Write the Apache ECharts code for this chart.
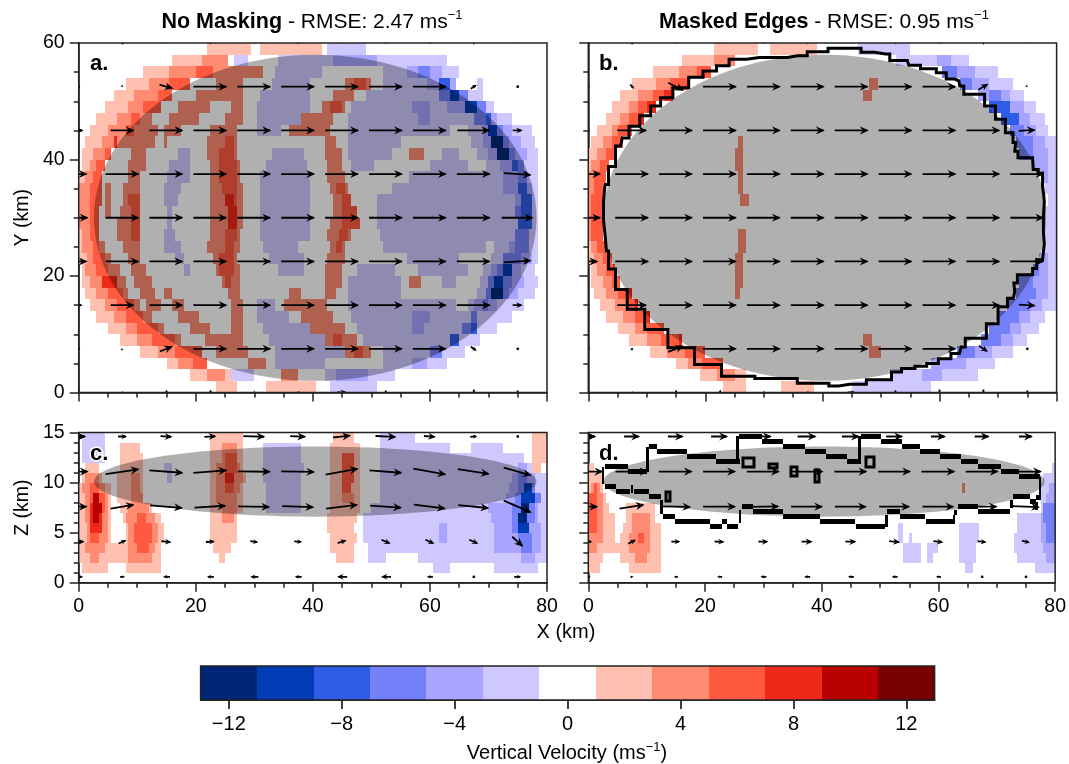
<!DOCTYPE html>
<html><head><meta charset="utf-8">
<style>html,body{margin:0;padding:0;background:#fff}#c{width:1069px;height:764px}</style>
<script src="https://cdn.jsdelivr.net/npm/echarts@6/dist/echarts.min.js"></script>
</head><body><div id="c"></div>
<script>
// Colour bands (centre value of each 2 m/s band) and colours
const bandValues = [-12,-10,-8,-6,-4,-2,0,2,4,6,8,10,12];
const bandColors = ['#002677','#003cb4','#2f5ce6','#7480f8','#a8a4ff','#cfc8ff','#ffffff','#ffc0b0','#ff8c72','#ff5a40','#f02818','#b80000','#780000'];
const barTicks = [-12,-8,-4,0,4,8,12];

// Row centres (km); each row is x, value, x, value ... (value holds until next x)
const rowsY = [59,57,55,53,51,49,47,45,43,41,39,37,35,33,31,29,27,25,23,21,19,17,15,13,11,9,7,5,3,1];
const rowsZ = [14.5,13.5,12.5,11.5,10.5,9.5,8.5,7.5,6.5,5.5,4.5,3.5,2.5,1.5,0.5];

const heatA = [
[22,2,29.5,0,31,2,41.5,0,42.5,-2,49,0],
[16,2,21,4,25.5,0,26.5,-2,29,0,34,-2,43.5,-4,51,-2,63,0],
[11,2,15.5,4,20,6,23,4,31.5,0,33.5,-2,41.5,0,52,-2,56,-4,58,-6,60,-4,62,-2,65,0],
[8,2,12,4,15.5,6,19,0,23.5,4,28,0,33,-2,39.5,0,45.5,4,47,6,49,4,50,0,52,-2,59.5,-4,61.5,-8,63.5,-4,64.5,0,68,-2,69,0],
[6,2,9.5,4,13.5,6,16,0,20,4,28,0,31,-2,39.5,0,43.5,4,47,0,49,-2,61.5,-6,63.5,-10,65,-6,66.5,-2,69,0],
[4.5,2,8.5,4,11,6,14,0,17,4,22.5,0,26,4,28,0,30.5,-2,39.5,0,41.5,4,43,6,45,4,45.5,0,46.5,-2,57,-4,60,-2,63,-4,66,-10,68,-6,69.5,-2,71,0],
[3,2,6.5,4,9,6,10.5,4,12.5,0,15.5,4,20.5,0,25,4,28,0,30.5,-2,38,4,43.5,0,46,-2,58,-4,60,-2,67.5,-6,69.5,-8,70.5,-4,71.5,-2,74,0],
[2,2,5,4,8,6,9.5,4,13.5,0,14.5,4,17.5,0,22.5,4,27,0,30.5,-2,34.5,0,36,4,43,0,46,-2,63.5,0,66.5,-2,69,-4,70,-10,71.5,-6,72.5,-4,74,-2,77.5,0],
[1,2,4,4,6,8,6.5,4,13,0,14.5,4,15,0,22,4,25,6,26.5,4,27,0,42,4,44,0,46,-2,55,0,67,-2,69,-4,70.5,-12,72.5,-6,73.5,-4,75.5,-2,78,0],
[0.5,2,2.5,4,4.5,6,5.5,0,9,4,11.5,0,17,-2,19,0,22,4,24,6,26.5,4,27,0,33,-2,38.5,0,42,4,45,0,46,-2,53.5,0,56.5,4,59,0,62,-2,65,0,68,-2,70,-4,71.5,-12,73.5,-6,74.5,-4,76.5,-2,78.5,0],
[0.5,2,2,4,3,6,4.5,0,8.5,4,11.5,0,15.5,-2,19,0,22.5,4,24,6,27,4,27.5,0,32,-2,39,0,42.5,4,45,0,46.5,-2,50.5,0,60,-2,66.5,0,69.5,-2,72,-4,74,-8,75,-6,76,-2,78.5,0],
[0,2,1,4,2.5,6,4,0,8.5,4,10.5,0,15,-2,19,0,22.5,4,24,6,27,4,27.5,0,31,-2,39.5,0,42.5,4,45.5,0,56.5,-2,72.5,-4,75,-6,76.5,-2,78.5,0],
[0,4,2,6,4,0,4.5,4,5.5,0,7.5,4,10.5,0,14.5,-2,17.5,0,22.5,4,24.5,6,27,4,28,0,31,-2,39.5,0,43,4,44,6,45.5,4,46,0,53.5,-2,72.5,-4,75,-8,76.5,-4,77.5,-2,78.5,0],
[0,4,2,6,4,0,4.5,4,5.5,0,7.5,4,8.5,6,10.5,0,14.5,-2,17,0,22.5,4,25,8,26.5,6,27,4,28,0,31,-2,39.5,0,43.5,4,45,6,46.5,0,51,-2,74.5,-4,75.5,-8,77.5,-2,78.5,0],
[0,4,2,6,3.5,0,4.5,4,5.5,0,7,4,9,6,10.5,0,15,-2,16,0,22.5,4,25.5,8,27,4,28,0,31,-2,39.5,0,43.5,4,45,6,47.5,0,51,-2,74.5,-6,75.5,-8,77.5,-2,78.5,0],
[0,4,2,6,3.5,0,6.5,4,9,6,10.5,0,15,-2,16,0,22.5,4,25.5,8,27,4,28,0,31,-2,39.5,0,43,4,45,6,48,0,51,-2,75,-8,77.5,-2,78.5,0],
[0,2,0.5,4,2,6,3.5,0,6.5,4,9,6,10.5,0,14.5,-2,16.5,0,22.5,4,25,6,27,4,27.5,0,31,-2,39.5,0,42.5,4,44.5,6,46,4,46.5,0,51.5,-2,74.5,-6,77,-2,78.5,0],
[0,2,0.5,4,2.5,6,3.5,4,4.5,0,7.5,4,10.5,0,14.5,-2,17.5,0,22,4,25,6,26.5,4,27.5,0,31.5,-2,37.5,0,43,4,44,6,45,4,45.5,0,52,-2,69.5,0,71,-2,73.5,-4,74.5,-6,77,-2,78.5,0],
[0,2,1.5,4,2.5,6,4.5,4,5.5,0,8.5,4,10.5,0,16.5,-2,18,0,23,4,24,6,26.5,4,27,0,32.5,-2,38.5,0,42.5,4,45.5,0,56,-2,65,0,70.5,-2,72.5,-6,75.5,-4,77.5,-2,78.5,0],
[0.5,2,1,4,3,6,5,4,7,0,9,4,11.5,0,18,-2,19,0,23.5,4,24,6,26.5,4,27.5,0,34,-2,38.5,0,42,4,45,0,47.5,-2,54,0,58,-2,66.5,0,69,-2,70.5,-4,71.5,-6,72.5,-10,74,-4,75.5,-2,78,0],
[0.5,2,2,4,4,8,6.5,4,8,0,9.5,4,12.5,0,24.5,4,25,6,26,4,27.5,0,42,4,45,0,46,-2,55,0,56.5,4,58.5,0,62,-2,64.5,0,68.5,-2,70,-6,71,-10,72.5,-6,74,-4,76,-2,78.5,0],
[1,2,3,4,5,6,7.5,4,8.5,0,10.5,4,13,0,14.5,4,16,0,25.5,4,27.5,0,36,4,38,0,42,4,44,0,46,-2,55,0,68,-2,69.5,-6,70.5,-12,72.5,-6,73.5,-4,75,-2,78,0],
[2,2,4.5,4,6.5,6,9.5,4,10.5,0,11.5,4,14,0,16,4,18,0,26,4,28,0,30.5,-2,33.5,0,35,4,42.5,0,46,-2,64.5,0,66.5,-2,67.5,-4,69,-6,70,-4,71.5,-2,76,0],
[3,2,6,4,8,6,11,4,12.5,0,17,4,20.5,0,26,4,28,0,30.5,-2,36,0,38,4,43.5,0,46.5,-2,57,-4,60,-2,67,-6,68,-2,74,0],
[5,2,8,4,10,6,13.5,4,14.5,0,19,4,22.5,0,26,4,28,0,31.5,-2,39.5,4,45.5,0,47.5,-2,57,-4,59,-2,65.5,-6,67,-8,68,-2,71.5,0],
[7,2,10,4,12.5,6,16.5,4,17.5,0,21.5,4,28,0,32.5,-2,42,4,43.5,6,45,4,47.5,0,48.5,-2,63.5,-8,65,-2,68.5,0],
[10.5,2,13.5,4,16.5,6,21,0,23.5,4,29,0,33.5,-2,45.5,4,47,6,48.5,4,50,0,52,-2,60,-6,62,-2,66,0],
[15,2,17,4,19.5,6,22,0,29,4,32,0,33.5,-2,42,0,52,-2,57,-4,59.5,-2,63,0],
[19,2,22,4,25,2,26,-2,30,0,34.5,4,37.5,0,42,-2,44,-4,49.5,-2,54,0],
[23.5,2,27,0,32,2,40.5,0,43,-2,51,0]
];

const heatB = [
[21.5,2,29,0,31,2,39,0,46,-2,55,0],
[16,2,21.5,4,25,0,52.5,-2,59.5,-4,62,-2,65,0],
[11,2,15.5,4,18.5,6,21,0,60.5,-6,63,-4,66,-2,70,0],
[7.5,2,11.5,4,14,6,17,0,48,4,49.5,0,63.5,-6,65.5,-4,68.5,-2,72.5,0],
[5.5,2,8.5,4,11,6,13,8,14.5,0,47,4,48.5,0,66.5,-4,68.5,-6,70.5,-4,72,-2,74.5,0],
[4,2,7,4,8.5,6,10,8,11.5,0,68.5,-8,72,-4,74.5,-2,76.5,0],
[3,2,5.5,4,7,6,8.5,8,9.5,0,70.5,-8,73.5,-4,75.5,-2,78,0],
[1.5,2,4,4,5,6,7.5,0,72,-6,74.5,-4,76.5,-2,78.5,0],
[0.5,2,2.5,4,4,6,6,0,25.5,4,26.5,0,73,-6,76,-4,78,-2,80,0],
[0,2,1.5,4,3,6,4.5,0,25,4,26.5,0,73.5,-6,76,-4,78.5,-2,80,0],
[0,2,0.5,4,2,6,3.5,0,25,4,26.5,0,76,-4,78.5,-2,80,0],
[0,4,1,6,3,0,25.5,4,26.5,0,77.5,-4,78.5,-2,80,0],
[0,4,1,6,2.5,0,25.5,4,26.5,0,78,-2,80,0],
[0,4,0.5,6,2.5,0,26,4,27.5,0,78.5,-2,80,0],
[0,4,0.5,6,2.5,0,78,-2,80,0],
[0,4,0.5,6,2.5,0,78,-2,80,0],
[0,4,0.5,6,2.5,0,25.5,4,27,0,78,-2,80,0],
[0,2,0.5,4,1.5,6,3,0,25.5,4,27,0,78,-2,80,0],
[0,2,1,4,2.5,6,4,0,25,4,26.5,0,77,-4,78.5,-2,80,0],
[0.5,2,1.5,4,3,6,4.5,0,25,4,26.5,0,76,-6,77,-4,78.5,-2,80,0],
[0.5,2,2.5,4,4,6,5.5,0,25,4,26.5,0,73.5,-6,76,-4,78.5,-2,80,0],
[1,2,3,4,5,6,7,8,7.5,0,25,4,26,0,73,-6,76.5,-4,78.5,-2,80,0],
[2,2,4.5,4,6.5,6,8,8,8.5,0,71.5,-6,75.5,-4,77.5,-2,80,0],
[3,2,6,4,8,6,10,8,10.5,0,70,-6,73.5,-4,75.5,-2,78,0],
[5,2,8,4,10,6,13,0,68.5,-6,72,-4,74,-2,77,0],
[7,2,10,4,12.5,6,15.5,8,16,0,47,4,48.5,0,67,-6,70.5,-4,72.5,-2,75,0],
[10.5,2,13.5,4,16.5,6,20,0,48,4,50,0,63,-6,66,-4,69,-2,72.5,0],
[15,2,17,4,19.5,6,23,0,58.5,-4,64.5,-2,69.5,0],
[19,2,22,4,25,2,27,0,51.5,-2,57,-4,60.5,-2,66.5,0],
[23,2,27,0,33,2,38.5,0,45,-2,58.5,0]
];

const heatC = [
[0.5,-2,4.5,0,22.5,2,28,0,43.5,2,47,0,51.5,-2,57.5,0,77.5,2,80,0],
[0.5,-2,4.5,0,7,2,10.5,0,22.5,2,24.5,4,27,2,28,0,31.5,-2,38,0,43,2,48,0,51.5,-2,63.5,0,67,-2,72.5,0,77.5,2,80,0],
[0.5,-2,4.5,0,7,2,11,0,22.5,2,24.5,4,25,6,27,2,28,0,31.5,-2,38,0,43,2,45,6,47,2,48,0,51.5,-2,76,0,77.5,2,80,0],
[1,2,3.5,0,7,2,11,0,14.5,-2,16,0,22.5,2,23.5,4,25,6,27,4,27.5,2,28,0,31.5,-2,38.5,0,43,2,45,6,47,2,48,0,51.5,-2,75,-4,76.5,-2,77.5,2,79,0],
[0.5,2,1,4,3.5,2,4,0,6.5,2,9,4,10.5,2,11,0,15,-2,16,0,22.5,2,23.5,4,25,8,26.5,4,28,2,28.5,0,31.5,-2,38,0,43,2,45,6,47,2,48,0,51.5,-2,74,-4,75,-6,76.5,-4,78,-2,80,0],
[0,2,0.5,4,2,6,3.5,4,4.5,2,5.5,0,6.5,2,9,4,10.5,2,11,0,22.5,2,23.5,4,25,6,26.5,4,27.5,2,28,0,32,-2,38,0,43,2,45,6,46.5,2,48,0,51.5,-2,73.5,-4,75,-6,76,-10,77.5,-6,78,-2,80,0],
[0,2,1,4,2,6,2.5,10,3.5,6,4.5,4,5,2,5.5,0,6.5,2,9,4,11,0,22.5,2,23.5,4,27,2,28,0,32,-2,38,0,43,2,45,4,47,2,48,0,51.5,-2,73,-4,74.5,-6,75.5,-10,78,-6,79,-2,80,0],
[0,2,1,4,2,8,2.5,10,4,6,4.5,4,5,2,5.5,0,7,2,8.5,4,12,2,12.5,0,22.5,2,24.5,4,27,2,28,0,32,-2,38,0,43,2,48,0,50,-2,70,-4,74,-6,75.5,-12,77,-6,78,-4,78.5,-2,80,0],
[0,2,1,4,2,8,2.5,10,3.5,8,4,4,5,2,5.5,0,7.5,2,8,4,10,6,11.5,4,13,2,14,0,22.5,2,24.5,4,26.5,2,27,0,42.5,2,47.5,0,48.5,-2,70.5,-4,74,-6,75,-12,76.5,-6,78,-4,78.5,-2,80,0],
[0,2,1.5,4,2,8,4,4,5,2,5.5,0,8,2,8.5,4,9.5,6,12.5,4,13.5,2,14.5,0,22.5,2,27,0,42.5,2,47,0,48.5,-2,61.5,-4,63,-2,71,-4,74,-6,75,-10,77,-4,79,-2,80,0],
[0,2,1.5,4,2,6,3.5,4,5,2,5.5,0,8,2,8.5,4,9.5,6,12.5,4,13.5,2,14.5,0,22.5,2,27,0,43,2,47.5,0,48.5,-2,61.5,-4,63,-2,71,-4,75,-6,77.5,-4,79,-2,80,0],
[0,2,1,4,4.5,2,8.5,4,10,6,12,4,13,2,14,0,23,2,26,0,43,2,47,0,49.5,-2,71,-4,75.5,-6,77.5,-4,79,-2,80,0],
[0,2,2,4,3.5,2,8.5,4,12.5,2,14,0,24,2,25,0,44,2,47,0,49.5,-2,52.5,0,58,-2,75.5,-4,78,-2,80,0],
[0.5,2,5,0,8,2,14,0,60.5,-2,63.5,0,71,-2,78.5,0],
[]
];

const heatD = [
[],[],[],
[0,2,1,0,79.5,-2,80,0],
[0,2,2.5,0,78,-2,80,0],
[0,2,0.5,4,1,6,1.5,4,2,2,2.5,0,64,4,64.5,0,77.5,-2,79,-4,80,0],
[0,6,1.5,4,2.5,2,3,0,77.5,-2,78.5,-4,80,0],
[0,6,1.5,4,2.5,2,3.5,0,6.5,2,11.5,0,77.5,-2,78,-6,80,0],
[0,6,1.5,4,2.5,2,4.5,0,6.5,2,7.5,4,10.5,2,11.5,0,73.5,-2,77.5,-4,78,-6,80,0],
[0,6,1.5,4,2.5,2,4.5,0,6,2,7.5,4,10.5,2,12.5,0,53,-2,54,0,63.5,-2,67,0,73.5,-2,77.5,-4,78.5,-6,80,0],
[0,4,2.5,2,4.5,0,5.5,2,7,4,8.5,6,9.5,4,10.5,2,12.5,0,53,-2,54,0,55,-2,55.5,0,63.5,-2,67,0,73,-2,77.5,-4,78.5,-6,80,0],
[0,4,1.5,2,7,4,10.5,2,12.5,0,54,-2,57,0,58,-2,60,0,63.5,-2,66.5,0,73,-2,78,-4,80,0],
[0,2,2.5,0,5.5,2,8,4,10,2,12.5,0,54,-2,57,0,58,-2,59,0,63.5,-2,66.5,0,73.5,-2,78.5,-4,80,0],
[0,2,2,0,7,2,12.5,0,64.5,-2,66,0,76.5,-2,80,0],
[]
];

// Gray ellipses: centre x, centre y, semi-axis x, semi-axis y (km)
const ellipseXY = [40.4,30,37.8,28];
const ellipseXZ = [40.4,10.1,37.8,3.5];

// Mask outline for panel b (x, y km)
const maskB = [[2.6,29.6],[2.6,32.8],[3.1,35.7],[3.8,38.8],[5.5,42.3],[6.1,43.7],[7.8,45.7],[9.8,47.5],[11.5,49.2],[13.2,50.6],[15.7,52.3],[18.6,54.1],[20.6,55.2],[23.2,56.1],[24.9,57.2],[29.2,57.5],[32.3,57.5],[35.7,57.8],[39.1,58.5],[42.8,59.1],[46.2,59.1],[47,58.4],[50.8,58.1],[52.2,57],[54.5,57],[55,56.2],[58.5,55.6],[60.4,54.9],[61.9,53.8],[63.3,53.5],[63.6,52.6],[64.7,51.2],[66.7,51.2],[68.7,49.2],[70.4,46.9],[72.1,44.6],[73,42.9],[72.7,41.4],[74.1,40.3],[75.9,40.3],[76.1,38.3],[77.6,37.7],[77.6,35.4],[77.9,34.3],[77.9,32.8],[77.6,30.2],[77.9,27.4],[77.9,25.6],[77.3,22.8],[75.9,21.3],[75.9,20.2],[73.9,20.2],[72.7,18.8],[73,17.3],[72.2,16.2],[71,14.7],[69,11.8],[67,9.3],[65.1,9.3],[63.7,7.8],[63.1,6.7],[60.8,5.8],[58.8,5],[56.8,4.5],[54.8,4.1],[52.2,3.5],[51.4,2.2],[48.5,2.2],[46.5,1.4],[42.8,1.1],[39.4,1.6],[32,2.4],[24.9,2.8],[20.6,4.8],[15.7,7.7],[11.5,10.8],[7.8,14.3],[5.5,17.7],[3.8,21.2],[3.1,24.3],[2.6,27.2],[2.6,29.6]];

// Mask outline for panel d: bars [x0,x1,z], posts [x,z0,z1], loops [x0,x1,z0,z1]
const maskBarsD = [[2.8,6.8,11.63],[6.8,10.1,11.07],[10.4,11.8,13.6],[11.8,16.9,13.13],[16.9,21.9,12.6],[21.9,26,12.1],[25.9,29.7,14.63],[29.7,33.3,14.07],[33.3,37.1,13.57],[37.1,40.8,13.07],[40.8,44.3,12.57],[44.3,46.8,12.1],[46.8,50.2,14.63],[50.2,53.8,14.07],[53.8,56.8,13.57],[56.8,60.3,13.07],[60.3,63.8,12.57],[63.8,66.8,12.1],[66.8,70.8,11.6],[70.8,73.8,11.07],[73.8,77.4,10.6],[76.7,77.6,8.53],[72.7,75.7,8.57],[75.7,76.7,8.07],[66.8,72.3,7.07],[63.3,66.8,7.6],[57.8,62.8,6.1],[53.4,57.7,6.57],[51.2,53.4,7.07],[45.9,50.8,5.6],[39.7,45.7,6.1],[33.3,39.7,6.57],[28.3,33.3,7.07],[26.3,28.3,7.57],[23.7,25.7,5.6],[22.9,23.7,6.1],[20.9,22.9,5.6],[14.8,20.8,6.1],[12.8,14.8,6.57],[10.4,12.5,8.57],[7.8,10.4,9.1],[4.8,7.2,9.1],[2.8,4.8,9.63]];
const maskPostsD = [[2.5,9.87,11.6],[10.1,11.07,13.6],[25.6,12.1,14.63],[46.5,12.1,14.63],[77.4,8.4,10.6],[76.8,7.3,8.07],[72.5,7.47,8.3],[62.9,6.8,7.3],[62.7,6,6.8],[51.1,5.6,6.8],[26,6,7.3],[12.5,6.9,8.3],[7.5,9,9.8]];
const maskLoopsD = [[13.4,14,8.2,9.1],[31,32.4,11.5,11.9],[34.8,35.8,10.7,11.6],[38.9,39.6,10.1,11.3],[26.5,28.4,11.6,12.5],[47.6,48.9,11.6,12.6]];

// Wind vectors: columns at these x, rows at these y/z; each cell is [u, v]
const quiverX = [0,7.5,15,22.5,30,37.5,45,52.5,60,67.5,75];
const quiverY = [60,52.5,45,37.5,30,22.5,15,7.5,0];
const quiverZ = [14.6,11.1,7.6,4.1,0.6];
const quiverA = [
[[0,0],[0,-0.5],[0.5,-1],[0,-1.5],[0,-1.5],[0,-1.5],[0.5,-1],[0,-1.5],[0,-1.5],[0,-2],[0,-1]],
[[0,0],[0.5,-0.5],[7,-2],[17,0],[17,0],[17,0],[17,0],[17,0],[17,0],[3,2],[0.5,0]],
[[5,0],[12,0],[17,0],[17,0],[17,0],[17,0],[17,0],[17,0],[17,0],[16.5,0],[5,0]],
[[9,0],[17,0],[17,0],[17,0],[17,0],[17,0],[17,0],[17,0],[17,0],[17,0],[14,-1]],
[[10,0],[17,0],[17,0],[17,0],[17,0],[17,0],[17,0],[17,0],[17,0],[17,0],[16,0]],
[[9,0],[17,0],[17,0],[17,0],[17,0],[17,0],[17,0],[17,0],[17,0],[17,0],[14,1]],
[[4,0],[12,0],[17,0],[17,0],[17,0],[17,0],[17,0],[17,0],[17,0],[17,0],[5,0]],
[[0,0],[0.5,0.5],[6.5,2.5],[17,0],[17,0],[17,0],[17,0],[17,0],[17,0],[3,-2],[0.5,0]],
[[0.5,0],[0,1.5],[0,3],[0.5,3],[0,2],[1.5,1],[5,0],[0.5,-2],[0,-3],[0,-3],[0,-2]]
];
const quiverB = [
[[0,0],[0,-0.5],[0.5,-1],[0,-1.5],[0,-1.5],[0,-1.5],[0.5,-1],[0,-1.5],[0,-1.5],[0,-2],[0,-1]],
[[0,0],[2,-2],[8,-4],[17,0],[17,0],[17,0],[17,0],[17,0],[17,0],[5,3],[0.5,-0.5]],
[[2,0],[15,0],[17,0],[17,0],[17,0],[17,0],[17,0],[17,0],[17,0],[17,0],[8.5,0.5]],
[[13,0],[17,0],[17,0],[17,0],[17,0],[17,0],[17,0],[17,0],[17,0],[17,0],[17,0]],
[[13,0],[17,0],[17,0],[17,0],[17,0],[17,0],[17,0],[17,0],[17,0],[17,0],[17,0]],
[[10,0],[17,0],[17,0],[17,0],[17,0],[17,0],[17,0],[17,0],[17,0],[17,0],[17,0]],
[[2,0],[15,0],[17,0],[17,0],[17,0],[17,0],[17,0],[17,0],[17,0],[17,0],[8.5,-0.5]],
[[0,0],[1,1],[8,3],[17,0],[17,0],[17,0],[17,0],[17,0],[17,0],[4.5,-3],[0.3,-0.3]],
[[0.5,0],[0,1.5],[0,3],[0.5,3],[0,2],[1.5,1],[4,0],[0.5,-2],[0,-3],[0,-3],[0,-2]]
];
const quiverC = [
[[7.5,0],[4.5,0],[6,-0.3],[6,0.3],[11,-0.3],[8,-0.3],[9,1],[10.5,-0.5],[6,-0.5],[3.5,0.3],[0.3,0]],
[[10,0],[17,2.5],[17,-1.3],[17,1.3],[16.5,-0.2],[17,-0.3],[16.5,3],[16.5,-1.3],[16.5,-3],[16,-2.5],[14,-4]],
[[9,0],[12,2],[16.5,-1.3],[16,1],[16,-0.3],[16,-0.5],[16,2],[16,-1],[16,-2],[15.5,-1.5],[14,-6]],
[[6,0],[4,1.8],[5,-0.5],[4.5,0.3],[4,-0.5],[4,-0.3],[4.5,1.5],[4.5,-2],[4.5,-2],[4.5,-2],[5.5,-5]],
[[4.5,0],[2.5,0],[-3.5,0],[-3.5,0],[-4,0],[-3.5,0],[-5,0],[-5,0],[-3,0],[0.2,0],[3.5,0]]
];
const quiverD = [
[[8,0],[8,0],[8,0],[8.5,0],[8.5,0],[9.5,0],[9,0],[8.5,0],[7.5,0],[7.5,0],[7,0]],
[[15,0],[16.5,0],[17,0],[16.5,0],[16.5,0],[16.5,0],[16.5,0],[16.5,0],[17,0],[16.5,0],[16,0]],
[[10,0],[12.5,2],[15.5,-0.3],[16.5,0],[16,0.2],[16,0],[16,0],[15.5,0],[16,0],[15.5,0],[14,-0.5]],
[[4,0],[4,2],[4.5,0],[5,-0.2],[5,0],[5.5,0],[5.5,0],[5.5,-0.5],[5,-0.5],[4.5,-0.5],[4,-1]],
[[2.5,0],[1.5,0],[-2,0],[-2.5,0],[-3,0],[-3,0],[-3,0],[-3,0],[-2.5,0],[0.2,0],[0.2,0]]
];

const FONT = '"Liberation Sans", Arial, sans-serif';
const colorOf = v => bandColors[bandValues.indexOf(v)];

function spans(rows, ys, h){
  const out = [];
  rows.forEach((r,j) => {
    for (let i=0;i+2<r.length;i+=2){
      if (r[i+1]!==0) out.push([r[i],r[i+2],ys[j],h,r[i+1]]);
    }
  });
  return out;
}
function rectOf(api,x0,x1,y0,y1){
  const a = api.coord([x0,y1]), b = api.coord([x1,y0]);
  const l=Math.round(a[0]), t=Math.round(a[1]), r=Math.round(b[0]), bt=Math.round(b[1]);
  return {x:l,y:t,width:r-l,height:bt-t};
}
function heatSeries(i,rows,ys,h){
  return {type:'custom',xAxisIndex:i,yAxisIndex:i,z:2,clip:true,silent:true,animation:false,
    data:spans(rows,ys,h),
    renderItem:(p,api)=>{
      const x0=api.value(0),x1=api.value(1),y=api.value(2),hh=api.value(3),v=api.value(4);
      return {type:'rect',shape:rectOf(api,x0,x1,y-hh/2,y+hh/2),style:{fill:colorOf(v)}};
    }};
}
function ellipseSeries(i,e){
  return {type:'custom',xAxisIndex:i,yAxisIndex:i,z:3,clip:true,silent:true,animation:false,
    data:[e],
    renderItem:(p,api)=>{
      const c=api.coord([api.value(0),api.value(1)]);
      const q=api.coord([api.value(0)+api.value(2),api.value(1)+api.value(3)]);
      return {type:'ellipse',shape:{cx:c[0],cy:c[1],rx:Math.abs(q[0]-c[0]),ry:Math.abs(q[1]-c[1])},style:{fill:'rgba(0,0,0,0.31)'}};
    }};
}
function quiverSeries(i,rows,ys){
  const d=[];
  rows.forEach((r,j)=>r.forEach((c,k)=>d.push([quiverX[k],ys[j],c[0],c[1]])));
  return {type:'custom',xAxisIndex:i,yAxisIndex:i,z:6,clip:true,silent:true,animation:false,
    data:d,
    renderItem:(p,api)=>{
      const c=api.coord([api.value(0),api.value(1)]);
      const dx=api.value(2)*2, dy=-api.value(3)*2, len=Math.hypot(dx,dy);
      if(len<1.2) return {type:'circle',shape:{cx:c[0],cy:c[1],r:1.4},style:{fill:'#000'}};
      const ux=dx/len,uy=dy/len;
      const tail=[c[0]-dx/2,c[1]-dy/2], tip=[c[0]+dx/2,c[1]+dy/2];
      const hl=Math.min(9,Math.max(3,len*0.65)), hw=hl*0.45;
      const back=[tip[0]-ux*hl,tip[1]-uy*hl];
      const notch=[tip[0]-ux*hl*0.65,tip[1]-uy*hl*0.65];
      return {type:'group',children:[
        {type:'polyline',shape:{points:[tail,[tip[0]-ux*1.5,tip[1]-uy*1.5]]},style:{stroke:'#000',lineWidth:1.8,fill:null}},
        {type:'polygon',shape:{points:[tip,[back[0]-uy*hw,back[1]+ux*hw],notch,[back[0]+uy*hw,back[1]-ux*hw]]},style:{fill:'#000'}}
      ]};
    }};
}

const P = [
 {left:78.7,top:43,width:468.3,height:349.5},
 {left:588.3,top:43,width:468.3,height:349.5},
 {left:78.7,top:432.5,width:468.3,height:150.3},
 {left:588.3,top:432.5,width:468.3,height:150.3},
 {left:200.6,top:666,width:734,height:34}
];
const lineStyle={color:'#222',width:1.5};
function xAx(i,labels){
  return {gridIndex:i,type:'value',min:0,max:80,interval:20,
    axisLine:{show:true,onZero:false,lineStyle},axisTick:{show:true,length:9,lineStyle},
    minorTick:{show:true,splitNumber:4,length:5,lineStyle},splitLine:{show:false},minorSplitLine:{show:false},
    axisLabel:{show:labels,color:'#000',fontSize:19.5,fontFamily:FONT,margin:14,hideOverlap:false,showMinLabel:true,showMaxLabel:true}};
}
function yAx(i,max,interval,split,labels,name){
  return {gridIndex:i,type:'value',min:0,max,interval,
    axisLine:{show:true,onZero:false,lineStyle},axisTick:{show:true,length:9,lineStyle},
    minorTick:{show:true,splitNumber:split,length:5,lineStyle},splitLine:{show:false},minorSplitLine:{show:false},
    axisLabel:{show:labels,color:'#000',fontSize:19.5,fontFamily:FONT,margin:14,showMinLabel:true,showMaxLabel:true},
    name:name||'',nameLocation:'middle',nameRotate:90,nameGap:46,nameTextStyle:{color:'#000',fontSize:19.5,fontFamily:FONT}};
}
const titleRich={
  b:{fontFamily:FONT,fontSize:21.5,fontWeight:'bold',color:'#000',lineHeight:26},
  r:{fontFamily:FONT,fontSize:21,fontWeight:'normal',color:'#000',lineHeight:26},
  s:{fontFamily:FONT,fontSize:13,fontWeight:'normal',color:'#000',lineHeight:16,verticalAlign:'top'}
};
function plainTitle(text,x,y,size,extra){
  return {text,left:x,top:y,textAlign:'center',padding:0,textStyle:Object.assign({fontFamily:FONT,fontSize:size,color:'#000',fontWeight:'normal'},extra||{})};
}
function tagTitle(text,x,y){
  return {text,left:x,top:y,padding:0,z:20,textStyle:{fontFamily:FONT,fontSize:22,fontWeight:'bold',color:'#000',textBorderColor:'#fff',textBorderWidth:3}};
}

const option={
  animation:false,
  backgroundColor:'#fff',
  title:[
    {text:'{b|No Masking}{r| - RMSE: 2.47 ms}{s|−1}',left:312,top:9,textAlign:'center',padding:0,textStyle:{rich:titleRich,fontWeight:'normal'}},
    {text:'{b|Masked Edges}{r| - RMSE: 0.95 ms}{s|−1}',left:824,top:9,textAlign:'center',padding:0,textStyle:{rich:titleRich,fontWeight:'normal'}},
    tagTitle('a.',90,53),tagTitle('b.',599,53),tagTitle('c.',90,443),tagTitle('d.',599,443),
    plainTitle('X (km)',566,622,20),
    {text:'{t|Vertical Velocity (ms}{s|−1}{t|)}',left:567,top:741,textAlign:'center',padding:0,
      textStyle:{fontWeight:'normal',rich:{t:{fontFamily:FONT,fontSize:20,fontWeight:'normal',color:'#000',lineHeight:24},s:{fontFamily:FONT,fontSize:13,fontWeight:'normal',color:'#000',lineHeight:15,verticalAlign:'top'}}}}
  ],
  grid:P.map(g=>Object.assign({show:true,z:50,backgroundColor:'transparent',borderColor:'#222',borderWidth:1.5},g)),
  xAxis:[xAx(0,false),xAx(1,false),xAx(2,true),xAx(3,true),
    {gridIndex:4,type:'value',min:-13,max:13,
     axisLine:{show:true,onZero:false,lineStyle:{color:'#000',width:1.5}},
     axisTick:{show:true,length:9,customValues:barTicks,lineStyle:{color:'#000',width:1.5}},
     splitLine:{show:false},
     axisLabel:{show:true,customValues:barTicks,color:'#000',fontSize:20,fontFamily:FONT,margin:14,
       formatter:v=>String(v).replace('-','−')}}
  ],
  yAxis:[yAx(0,60,20,4,true,'Y (km)'),yAx(1,60,20,4,false),yAx(2,15,5,5,true,'Z (km)'),yAx(3,15,5,5,false),
    {gridIndex:4,type:'value',min:0,max:1,show:false}
  ],
  series:[
    heatSeries(0,heatA,rowsY,2),ellipseSeries(0,ellipseXY),quiverSeries(0,quiverA,quiverY),
    heatSeries(1,heatB,rowsY,2),ellipseSeries(1,ellipseXY),quiverSeries(1,quiverB,quiverY),
    {type:'line',xAxisIndex:1,yAxisIndex:1,z:5,data:maskB,step:'middle',showSymbol:false,symbol:'none',silent:true,animation:false,
      lineStyle:{color:'#000',width:3,join:'miter'}},
    heatSeries(2,heatC,rowsZ,1),ellipseSeries(2,ellipseXZ),quiverSeries(2,quiverC,quiverZ),
    heatSeries(3,heatD,rowsZ,1),ellipseSeries(3,ellipseXZ),
    {type:'custom',xAxisIndex:3,yAxisIndex:3,z:5,clip:true,silent:true,animation:false,data:maskBarsD,
      renderItem:(p,api)=>{const z=api.value(2);return {type:'rect',shape:rectOf(api,api.value(0),api.value(1),z-0.25,z+0.25),style:{fill:'#000'}};}},
    {type:'custom',xAxisIndex:3,yAxisIndex:3,z:5,clip:true,silent:true,animation:false,data:maskPostsD,
      renderItem:(p,api)=>{const x=api.value(0);return {type:'rect',shape:rectOf(api,x-0.22,x+0.22,api.value(1),api.value(2)),style:{fill:'#000'}};}},
    {type:'custom',xAxisIndex:3,yAxisIndex:3,z:5,clip:true,silent:true,animation:false,data:maskLoopsD,
      renderItem:(p,api)=>({type:'rect',shape:rectOf(api,api.value(0),api.value(1),api.value(2),api.value(3)),style:{fill:null,stroke:'#000',lineWidth:3}})},
    quiverSeries(3,quiverD,quiverZ),
    {type:'custom',xAxisIndex:4,yAxisIndex:4,z:2,silent:true,animation:false,data:bandValues.map(v=>[v]),
      renderItem:(p,api)=>{const v=api.value(0);return {type:'rect',shape:rectOf(api,v-1,v+1,0,1),style:{fill:colorOf(v)}};}}
  ]
};
echarts.init(document.getElementById('c'),null,{renderer:'canvas'}).setOption(option);
</script></body></html>
